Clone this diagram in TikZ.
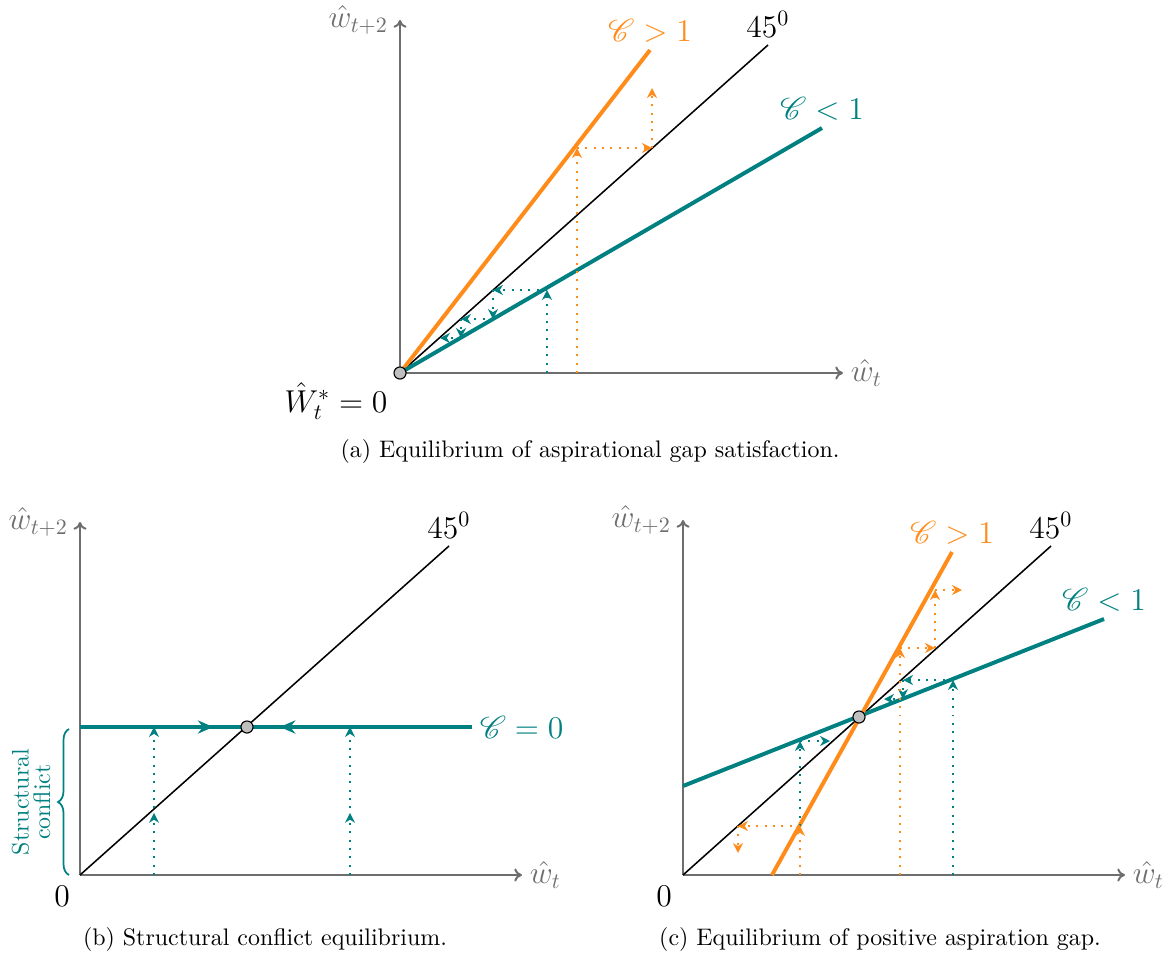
\documentclass[tikz,border=0pt]{standalone}
\usepackage{amsmath,amssymb}
\usepackage{mathrsfs}
\usepackage{xcolor}
\usepackage{tikz}
\usetikzlibrary{arrows.meta,decorations.pathreplacing,decorations.markings}
\definecolor{axgray}{HTML}{6E6E6E}
\definecolor{amber}{HTML}{FF8C1A}
\definecolor{tealc}{HTML}{008080}

\begin{document}
\begin{tikzpicture}[x=0.016cm,y=-0.016cm,font=\fontsize{10.9}{13}\selectfont,
  ax/.style={draw=axgray,line width=0.9pt,-{To[length=3.5pt,width=6pt]}},
  deg/.style={black,line width=0.7pt},
  hi/.style={amber,line width=1.8pt},
  lo/.style={tealc,line width=1.8pt},
  dt/.style={line width=0.9pt,dash pattern=on 0.9pt off 2.9pt,
             -{Stealth[length=4.5pt,width=4.5pt,inset=1.4pt]}},
  eq/.style={circle,draw=black,fill=gray!50,inner sep=0pt,minimum size=5.5pt,line width=0.5pt},
  big/.style={font=\Large},
  axl/.style={text=axgray,font=\Large}]
\useasboundingbox (0,0) rectangle (1169,953);
% (a) top panel
\coordinate (a0) at (400,373);
\coordinate (aY) at (400,20);
\coordinate (aX) at (843,373);
\coordinate (a45) at (768,45);
\coordinate (aHi) at (650,50);
\coordinate (aLo) at (822,128);
\draw[ax] (a0) -- (aY);
\draw[ax] (a0) -- (aX);
\node[axl,left=2pt] at (aY) {$\hat{w}_{t+2}$};
\node[axl,right] at (aX) {$\hat{w}_t$};
\draw[deg] (a0) -- (a45);
\draw[hi] (a0) -- (aHi);
\draw[lo] (a0) -- (aLo);
\node[big,above] at (a45) {$45^0$};
\node[big,above,text=amber] at (aHi) {$\mathscr{C}>1$};
\node[big,above,text=tealc] at (aLo) {$\mathscr{C}<1$};
\draw[dt,amber] (577,373) -- (577,148);
\draw[dt,amber] (577,148) -- (652,148);
\draw[dt,amber] (652,148) -- (652,88);
\draw[dt,tealc] (547,373) -- (547,290);
\draw[dt,tealc] (547,290) -- (493,290);
\draw[dt,tealc] (493,290) -- (493,319);
\draw[dt,tealc] (493,319) -- (461,319);
\draw[dt,tealc] (461,319) -- (461,338);
\draw[dt,tealc] (461,338) -- (440,338);
\node[eq] (aEq) at (a0) {};
\node[big] (aZero) at (336,401) {$\hat{W}_t^*=0$};
\node (capA) at (590,452) {(a) Equilibrium of aspirational gap satisfaction.};
% (b) bottom left panel
\coordinate (b0) at (80,875);
\coordinate (bY) at (80,522);
\coordinate (bX) at (522,875);
\coordinate (b45) at (449,546);
\coordinate (bL) at (80,727);
\coordinate (bLo) at (472,727);
\draw[ax] (b0) -- (bY);
\draw[ax] (b0) -- (bX);
\node[axl,left=2pt] at (bY) {$\hat{w}_{t+2}$};
\node[axl,right] at (bX) {$\hat{w}_t$};
\draw[deg] (b0) -- (b45);
\node[big,above] at (b45) {$45^0$};
\draw[dt,tealc,postaction={decorate},decoration={markings,
  mark=at position 0.42 with {\arrow{Stealth[length=4.5pt,width=4.5pt,inset=1.4pt]}}}] (154,875) -- (154,727);
\draw[dt,tealc,postaction={decorate},decoration={markings,
  mark=at position 0.42 with {\arrow{Stealth[length=4.5pt,width=4.5pt,inset=1.4pt]}}}] (350,875) -- (350,727);
\draw[lo,postaction={decorate},decoration={markings,
  mark=at position 0.34 with {\arrow{Stealth[length=7pt,width=6pt]}},
  mark=at position 0.51 with {\arrowreversed{Stealth[length=7pt,width=6pt]}}}] (bL) -- (bLo);
\node[big,right,text=tealc] at (bLo) {$\mathscr{C}=0$};
\node[eq] (bEq) at (247,727) {};
\draw[tealc,line width=0.8pt,decorate,decoration={brace,amplitude=5pt}] (69,875) -- (69,729);
\node[tealc,rotate=90,align=center,font=\fontsize{10.9}{9.8}\selectfont] (conf) at (31,802) {Structural\\conflict};
\node[big] (bZero) at (62,896) {$0$};
\node (capB) at (265,940) {(b) Structural conflict equilibrium.};
% (c) bottom right panel
\coordinate (c0) at (683,875);
\coordinate (cY) at (683,520);
\coordinate (cX) at (1125,875);
\coordinate (c45) at (1051,546);
\coordinate (cL) at (683,786);
\coordinate (cLo) at (1104,619);
\coordinate (cB) at (772,875);
\coordinate (cHi) at (952,552);
\draw[ax] (c0) -- (cY);
\draw[ax] (c0) -- (cX);
\node[axl,left=2pt] at (cY) {$\hat{w}_{t+2}$};
\node[axl,right] at (cX) {$\hat{w}_t$};
\draw[deg] (c0) -- (c45);
\draw[lo] (cL) -- (cLo);
\draw[hi] (cB) -- (cHi);
\node[big,above] at (c45) {$45^0$};
\node[big,above,text=amber] at (cHi) {$\mathscr{C}>1$};
\node[big,above,text=tealc] at (cLo) {$\mathscr{C}<1$};
\draw[dt,tealc] (800,826) -- (800,741);
\draw[dt,tealc] (800,741) -- (830,741);
\draw[dt,tealc] (953,875) -- (953,680);
\draw[dt,tealc] (953,680) -- (903,680);
\draw[dt,tealc] (903,680) -- (903,699);
\draw[dt,tealc] (903,699) -- (884,699);
\draw[dt,amber] (800,875) -- (800,826);
\draw[dt,amber] (800,826) -- (738,826);
\draw[dt,amber] (738,826) -- (738,853);
\draw[dt,amber] (900,875) -- (900,648);
\draw[dt,amber] (900,648) -- (935,648);
\draw[dt,amber] (935,648) -- (935,590);
\draw[dt,amber] (935,590) -- (962,590);
\node[eq] (cEq) at (859,717) {};
\node[big] (cZero) at (664,896) {$0$};
\node (capC) at (880,940) {(c) Equilibrium of positive aspiration gap.};
\end{tikzpicture}
\end{document}
